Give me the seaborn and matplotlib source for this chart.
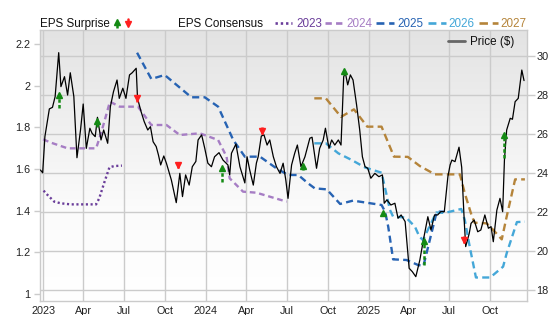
import matplotlib
matplotlib.use("Agg")
import matplotlib.pyplot as plt
import matplotlib.dates as mdates
import matplotlib.transforms as mtransforms
from matplotlib.lines import Line2D
from matplotlib.colors import LinearSegmentedColormap
import numpy as np
import pandas as pd
import seaborn as sns

sns.set_style("white")
plt.rcParams['font.family'] = ['Liberation Sans', 'DejaVu Sans']

# ---------------- data ----------------
price_dates = ["2022-12-26","2022-12-31","2023-01-05","2023-01-15","2023-01-22","2023-01-28","2023-02-05","2023-02-10","2023-02-18","2023-02-25",
"2023-03-03","2023-03-11","2023-03-18","2023-03-26","2023-04-01","2023-04-08","2023-04-16","2023-04-21","2023-04-28","2023-05-03",
"2023-05-11","2023-05-17","2023-05-26","2023-06-01","2023-06-08","2023-06-16","2023-06-21","2023-06-29","2023-07-06","2023-07-14",
"2023-07-20","2023-07-29","2023-08-01","2023-08-09","2023-08-16","2023-08-24","2023-08-30","2023-09-05","2023-09-12","2023-09-17",
"2023-09-22","2023-09-29","2023-10-05","2023-10-16","2023-10-27","2023-11-04","2023-11-10","2023-11-17","2023-11-25","2023-12-02",
"2023-12-10","2023-12-15","2023-12-23","2023-12-30","2024-01-06","2024-01-14","2024-01-21","2024-01-31","2024-02-09","2024-02-20",
"2024-02-24","2024-02-28","2024-03-09","2024-03-18","2024-03-29","2024-04-03","2024-04-09","2024-04-17","2024-04-24","2024-04-28",
"2024-05-05","2024-05-11","2024-05-18","2024-05-24","2024-06-01","2024-06-08","2024-06-16","2024-06-23","2024-06-29","2024-07-04",
"2024-07-12","2024-07-19","2024-07-25","2024-08-02","2024-08-11","2024-08-22","2024-08-27","2024-09-06","2024-09-13","2024-09-21",
"2024-09-26","2024-10-04","2024-10-10","2024-10-17","2024-10-25","2024-10-31","2024-11-06","2024-11-10","2024-11-15","2024-11-21",
"2024-11-27","2024-12-05","2024-12-12","2024-12-18","2024-12-24","2024-12-30","2025-01-06","2025-01-15","2025-01-24","2025-02-01",
"2025-02-05","2025-02-11","2025-02-20","2025-03-01","2025-03-08","2025-03-15","2025-03-24","2025-04-02","2025-04-09","2025-04-17",
"2025-04-26","2025-05-04","2025-05-14","2025-05-21","2025-05-29","2025-06-05","2025-06-12","2025-06-20","2025-06-28","2025-07-03",
"2025-07-07","2025-07-14","2025-07-23","2025-07-29","2025-08-04","2025-08-07","2025-08-15","2025-08-19","2025-08-26","2025-09-03",
"2025-09-10","2025-09-19","2025-09-27","2025-10-03","2025-10-08","2025-10-16","2025-10-23","2025-10-29","2025-11-02","2025-11-07",
"2025-11-15","2025-11-20","2025-11-26","2025-12-03","2025-12-11","2025-12-16"]
price_values = [24.16,24.02,25.87,27.29,27.37,27.92,30.17,28.43,28.94,28.00,
29.14,27.92,24.79,26.21,27.54,25.27,26.30,26.04,25.87,26.86,
25.70,26.21,25.53,27.40,28.17,28.77,27.83,28.35,27.83,29.03,
29.14,29.37,27.83,27.15,26.64,26.21,26.38,25.61,25.36,24.93,
24.42,24.88,24.50,23.65,22.49,23.99,22.80,23.91,23.39,24.33,
24.60,25.70,25.96,25.27,24.51,24.33,24.84,25.05,24.67,24.42,
23.91,25.02,25.49,24.33,23.50,24.84,24.16,23.39,24.52,24.84,
25.90,25.96,25.44,25.70,24.84,24.33,23.99,24.51,23.65,22.71,
24.42,25.02,25.44,24.33,24.84,25.79,25.84,24.25,25.27,25.70,
26.30,25.27,25.70,25.44,25.70,25.44,28.94,29.11,28.52,29.03,
28.77,27.49,26.21,24.84,24.33,24.25,23.74,23.99,23.82,23.91,
22.46,22.63,22.37,22.46,21.69,21.86,21.52,19.13,18.96,18.70,
19.55,20.58,21.77,21.09,21.86,21.86,22.03,22.03,23.82,24.42,
24.67,24.59,25.33,24.30,21.43,20.24,20.92,21.43,21.60,21.00,
21.09,21.86,21.18,21.26,20.49,22.11,22.71,22.03,24.67,26.21,
26.81,26.76,27.66,27.83,29.28,28.74]

eps_2023_dates = ["2023-01-02","2023-01-11","2023-01-26","2023-02-10","2023-03-04","2023-04-30","2023-05-07","2023-05-19","2023-05-30","2023-06-10","2023-06-27"]
eps_2023_values = [1.496,1.475,1.443,1.435,1.430,1.430,1.459,1.539,1.608,1.614,1.616]

eps_2024_dates = ["2023-01-01","2023-01-19","2023-02-25","2023-04-30","2023-05-11","2023-05-22","2023-05-31","2023-06-22","2023-08-02","2023-09-01",
                  "2023-10-05","2023-11-04","2023-12-19","2024-01-29","2024-02-17","2024-02-24","2024-03-25","2024-04-24","2024-05-24","2024-07-01"]
eps_2024_values = [1.742,1.726,1.699,1.699,1.771,1.854,1.923,1.899,1.899,1.811,
                   1.811,1.763,1.771,1.739,1.659,1.555,1.491,1.486,1.467,1.443]

eps_2025_dates = ["2023-07-31","2023-09-01","2023-10-01","2023-11-30","2023-12-30","2024-01-29","2024-03-03","2024-03-29","2024-05-02","2024-06-08",
                  "2024-07-04","2024-07-27","2024-08-18","2024-09-02","2024-09-29","2024-10-29","2024-11-27","2025-01-30","2025-02-07","2025-02-14",
                  "2025-02-25","2025-03-27","2025-04-22","2025-05-04","2025-06-03","2025-06-19"]
eps_2025_values = [2.158,2.032,2.051,1.944,1.944,1.899,1.739,1.659,1.659,1.603,
                   1.571,1.571,1.531,1.507,1.502,1.432,1.448,1.427,1.395,1.323,
                   1.166,1.163,1.139,1.134,1.395,1.395]

eps_2026_dates = ["2024-09-01","2024-09-27","2024-10-25","2024-11-24","2024-12-24","2025-01-30","2025-02-07","2025-02-18","2025-02-25","2025-03-26",
                  "2025-04-15","2025-04-25","2025-05-03","2025-06-02","2025-06-21","2025-07-28","2025-08-05","2025-08-16","2025-08-30","2025-10-01",
                  "2025-10-30","2025-11-07","2025-11-30","2025-12-18"]
eps_2026_values = [1.723,1.723,1.675,1.643,1.607,1.582,1.507,1.403,1.371,1.367,
                   1.323,1.275,1.259,1.391,1.389,1.408,1.355,1.227,1.079,1.079,
                   1.131,1.195,1.345,1.347]

eps_2027_dates = ["2024-09-01","2024-09-27","2024-10-31","2024-11-29","2024-12-29","2025-01-30","2025-02-27","2025-03-30","2025-04-26","2025-05-30",
                  "2025-07-25","2025-08-05","2025-08-20","2025-08-27","2025-09-23","2025-10-08","2025-10-27","2025-11-07","2025-11-26","2025-12-18"]
eps_2027_values = [1.939,1.939,1.850,1.886,1.803,1.803,1.659,1.658,1.614,1.574,
                   1.574,1.483,1.379,1.342,1.339,1.307,1.262,1.371,1.550,1.550]

beat_dates = ["2023-02-06","2023-05-02","2024-02-06","2024-08-06","2024-11-06","2025-02-03","2025-05-06","2025-11-02"]
beat_from = [27.32,26.36,23.55,24.16,29.03,21.91,19.30,24.76]
beat_to = [28.17,26.82,24.42,24.52,29.39,22.11,20.68,26.12]

miss_dates = ["2023-07-31","2023-11-01","2024-05-07","2025-08-03"]
miss_from = [27.92,24.54,26.36,20.76]
miss_to = [27.66,24.25,26.01,20.42]

eps_years = ["2023", "2024", "2025", "2026", "2027"]
eps_colors = ["#6a3d9a", "#a67dc4", "#2763b3", "#44a7d8", "#b5843a"]
eps_styles = [(0, (0.9, 1.1)), (0, (2.4, 1.6)), (0, (3.0, 1.8)), (0, (3.0, 1.8)), (0, (3.2, 1.8))]
eps_series = [(eps_2023_dates, eps_2023_values), (eps_2024_dates, eps_2024_values),
              (eps_2025_dates, eps_2025_values), (eps_2026_dates, eps_2026_values),
              (eps_2027_dates, eps_2027_values)]

price_ticks = [18, 20, 22, 24, 26, 28, 30]
eps_ticks = [1.0, 1.2, 1.4, 1.6, 1.8, 2.0, 2.2]
x_tick_dates = ["2023-01-01","2023-04-01","2023-07-01","2023-10-01","2024-01-01","2024-04-01",
                "2024-07-01","2024-10-01","2025-01-01","2025-04-01","2025-07-01","2025-10-01"]
x_tick_labels = ["2023","Apr","Jul","Oct","2024","Apr","Jul","Oct","2025","Apr","Jul","Oct"]

GREEN = "#148a14"
RED = "#ff1f1f"
GRID = "#cbcbcb"
HEAD = 4.6

# ---------------- figure ----------------
fig = plt.figure(figsize=(5.56, 3.15), dpi=100)
rect = [40 / 556, (315 - 300.7) / 315, (526.7 - 40) / 556, (300.7 - 30) / 315]
ax_bg = fig.add_axes(rect)
ax_eps = ax_bg.twinx()
ax_pr = ax_bg.twinx()

# background gradient
cmap = LinearSegmentedColormap.from_list("bg", [(0, "#ffffff"), (0.35, "#fbfbfb"), (1, "#e3e3e3")])
grad = np.linspace(0, 1, 256).reshape(-1, 1)
ax_bg.imshow(grad, cmap=cmap, origin="lower", extent=(0, 1, 0, 1),
             transform=ax_bg.transAxes, aspect="auto", zorder=0, interpolation="bicubic")

# price line
df_price = pd.DataFrame({"date": pd.to_datetime(price_dates), "price": price_values})
sns.lineplot(data=df_price, x="date", y="price", ax=ax_pr, color="black", lw=0.9, zorder=3)

# EPS consensus lines
for yr, col, ls, (d, v) in zip(eps_years, eps_colors, eps_styles, eps_series):
    dfe = pd.DataFrame({"date": pd.to_datetime(d), "eps": v})
    sns.lineplot(data=dfe, x="date", y="eps", ax=ax_eps, color=col, lw=1.7,
                 linestyle=ls, dash_capstyle="butt")

# surprise arrows
up_off = mtransforms.offset_copy(ax_pr.transData, fig=fig, x=0, y=-HEAD / 2, units="points")
dn_off = mtransforms.offset_copy(ax_pr.transData, fig=fig, x=0, y=HEAD / 2, units="points")
for d, s, e in zip(beat_dates, beat_from, beat_to):
    xd = mdates.date2num(pd.Timestamp(d))
    ax_pr.plot([xd, xd], [s, e - 0.12], color=GREEN, lw=1.8, ls=(0, (1.4, 0.9)),
               solid_capstyle="butt", zorder=5)
    ax_pr.plot([xd], [e], marker="^", ms=HEAD, color=GREEN, mec=GREEN, transform=up_off, zorder=6)
for d, s, e in zip(miss_dates, miss_from, miss_to):
    xd = mdates.date2num(pd.Timestamp(d))
    ax_pr.plot([xd, xd], [s, e], color=RED, lw=1.8, solid_capstyle="butt", zorder=5)
    ax_pr.plot([xd], [e], marker="v", ms=HEAD, color=RED, mec=RED, transform=dn_off, zorder=6)

# axes limits
xmin = mdates.date2num(pd.Timestamp("2022-12-25"))
xmax = mdates.date2num(pd.Timestamp("2025-12-22"))
for a in (ax_bg, ax_eps, ax_pr):
    a.set_xlim(xmin, xmax)
    a.set_xlabel("")
    a.set_ylabel("")
ax_bg.set_ylim(17.47, 31.33)
ax_pr.set_ylim(17.47, 31.33)
ax_eps.set_ylim(0.9676, 2.267)

# ticks
ax_bg.yaxis.tick_right()
ax_bg.set_yticks(price_ticks)
ax_bg.set_yticklabels([str(t) for t in price_ticks])
ax_bg.set_xticks([mdates.date2num(pd.Timestamp(t)) for t in x_tick_dates])
ax_bg.set_xticklabels(x_tick_labels)
ax_bg.grid(True, color=GRID, lw=1.0)
ax_bg.set_axisbelow(True)
ax_bg.tick_params(axis="y", right=True, left=False, length=5.5, pad=1.5, color=GRID,
                  labelsize=7.8, labelcolor="#222222", width=1.0)
ax_bg.tick_params(axis="x", length=3.5, pad=0.5, color=GRID, labelsize=7.8,
                  labelcolor="#222222", width=1.0)

ax_eps.yaxis.tick_left()
ax_eps.set_yticks(eps_ticks)
ax_eps.set_yticklabels(["%g" % t for t in eps_ticks])
ax_eps.tick_params(axis="y", left=True, right=False, length=4, pad=3, color=GRID,
                   labelsize=7.8, labelcolor="#222222", width=1.0)
ax_eps.tick_params(axis="x", bottom=False, labelbottom=False)
ax_eps.grid(False)

ax_pr.yaxis.set_visible(False)
ax_pr.tick_params(axis="x", bottom=False, labelbottom=False)
ax_pr.grid(False)

for a in (ax_eps, ax_pr):
    for sp in a.spines.values():
        sp.set_visible(False)
for sp in ax_bg.spines.values():
    sp.set_color(GRID)
    sp.set_linewidth(1.0)

# ---------------- top legend ----------------
def fx(px):
    return px / 556

def fy(py):
    return 1 - py / 315

fs = 8.4
fig.text(fx(40), fy(27), "EPS Surprise", fontsize=fs, color="#111111", va="baseline")
# surprise legend arrows
fig.add_artist(Line2D([fx(117), fx(117)], [fy(27.5), fy(22)], color=GREEN, lw=1.8,
                      ls=(0, (1.4, 0.9)), transform=fig.transFigure))
fig.add_artist(Line2D([fx(117)], [fy(21.5)], marker="^", ms=HEAD, color=GREEN, transform=fig.transFigure))
fig.add_artist(Line2D([fx(127.5), fx(127.5)], [fy(18.5), fy(23)], color=RED, lw=1.8,
                      transform=fig.transFigure))
fig.add_artist(Line2D([fx(127.5)], [fy(24)], marker="v", ms=HEAD, color=RED, transform=fig.transFigure))

fig.text(fx(177.5), fy(27), "EPS Consensus", fontsize=fs, color="#111111", va="baseline")
sample_x = [(275, 292), (325, 343), (376, 394), (427.5, 446), (478.5, 497.5)]
text_x = [296, 346.5, 397.5, 448.5, 500]
for yr, col, ls, (x0, x1), tx in zip(eps_years, eps_colors, eps_styles, sample_x, text_x):
    fig.add_artist(Line2D([fx(x0), fx(x1)], [fy(22.7), fy(22.7)], color=col, lw=1.9,
                          ls=ls, dash_capstyle="butt", transform=fig.transFigure))
    fig.text(fx(tx), fy(27), yr, fontsize=fs, color=col, va="baseline")

# price legend
fig.add_artist(Line2D([fx(447.5), fx(465)], [fy(41), fy(41)], color="#666666", lw=2.0,
                      transform=fig.transFigure))
fig.text(fx(470), fy(45), "Price ($)", fontsize=fs, color="#111111", va="baseline")

fig.savefig("out.png", dpi=100)
